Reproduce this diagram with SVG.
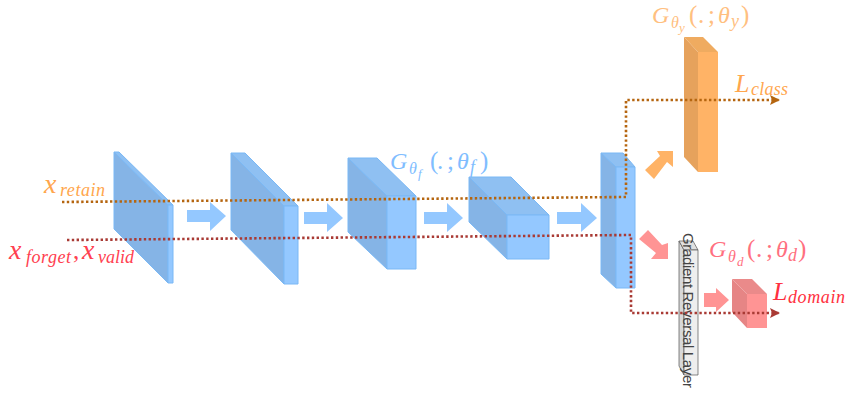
<svg xmlns="http://www.w3.org/2000/svg" width="847" height="393" viewBox="0 0 847 393">
<style>
.m{font-family:"Liberation Serif",serif;font-style:italic;font-size:24px}
.x{font-size:28px}.u{font-style:normal;font-size:25px}.s{font-size:18px}.t{font-size:16px}.f{font-size:13px}
.blue path{stroke:#7ab8f5;stroke-width:1}
.ba{fill:#94c8ff}
.g path{stroke:#555;stroke-width:.7}
.l{fill:none;stroke-width:2.6;stroke-dasharray:2.4 2.4}
</style>
<defs>
<marker id="ao" markerUnits="userSpaceOnUse" markerWidth="11" markerHeight="11" refX="10" refY="5" orient="auto"><path d="M0 0L10 5L0 10L2 5z" fill="#b5650f"/></marker>
<marker id="ar" markerUnits="userSpaceOnUse" markerWidth="11" markerHeight="11" refX="10" refY="5" orient="auto"><path d="M0 0L10 5L0 10L2 5z" fill="#a93a34"/></marker>
</defs>
<g id="layer1" class="blue"><path d="M114 152L168 205V283L114 229z" fill="#85b4e6"/><path d="M114 152H119L173 205H168z" fill="#8fc0f2"/><path d="M168 205H173V283H168z" fill="#94c8ff"/></g>
<g id="layer2" class="blue"><path d="M231 153L284 206V284L231 230z" fill="#85b4e6"/><path d="M231 153H245L298 206H284z" fill="#8fc0f2"/><path d="M284 206H298V284H284z" fill="#94c8ff"/></g>
<g id="layer3" class="blue"><path d="M348 158L387 196V269L348 232z" fill="#85b4e6"/><path d="M348 158H377L416 196H387z" fill="#8fc0f2"/><path d="M387 196H416V269H387z" fill="#94c8ff"/></g>
<g id="layer4" class="blue"><path d="M469 177L507 215V259L469 222z" fill="#85b4e6"/><path d="M469 177H511L549 215H507z" fill="#8fc0f2"/><path d="M507 215H549V259H507z" fill="#94c8ff"/></g>
<g id="layer5" class="blue"><path d="M601 153L616 167V288L601 274z" fill="#85b4e6"/><path d="M601 153H623L635 167H616z" fill="#8fc0f2"/><path d="M616 167H635V288H616z" fill="#94c8ff"/></g>
<g id="classifier"><path d="M684 37L698 52V172L684 157z" fill="#e6a25c"/><path d="M684 37H703L718 52H698z" fill="#efab60"/><path d="M698 52H718V172H698z" fill="#ffb366"/></g>
<g id="domain"><path d="M732 279L747 294V328L732 312z" fill="#e68585"/><path d="M732 279H752L767 294H747z" fill="#ea8a8a"/><path d="M747 294H767V328H747z" fill="#ff9494"/></g>
<g id="grl" class="g"><path d="M679 241L684 250V375L679 366z" fill="#d8d8d8"/><path d="M679 241H693L698 250H684z" fill="#e0e0e0"/><path d="M684 250H698V375H684z" fill="#eee"/><text transform="translate(683 233) rotate(90)" font-family="Liberation Sans,sans-serif" font-size="15" fill="#444" textLength="155" lengthAdjust="spacing">Gradient Reversal Layer</text></g>
<g id="arrows">
<path class="ba" d="M187 210H210V202L226 216L210 231V222H187z"/>
<path class="ba" d="M304 212H327V203L343 218L327 232V224H304z"/>
<path class="ba" d="M424 212H447V203L463 218L447 232V224H424z"/>
<path class="ba" d="M557 212H581V203L597 218L581 232V224H557z"/>
<path fill="#ffb366" d="M645 170L660 156L657 151H673V167L667 162L654 179z"/>
<path fill="#ff9494" d="M639 239L648 230L662 245L668 243V259H651L656 253z"/>
<path fill="#ff9494" d="M704 293H716V288L729 300L716 312V307H704z"/>
</g>
<g id="connectors">
<path class="l" stroke="#b5650f" d="M62 202L626 197V100H780" marker-end="url(#ao)"/>
<path class="l" stroke="#a93a34" d="M67 240L631 235V313H780" marker-end="url(#ar)"/>
</g>
<g id="labels">
<text class="m" fill="#ffa64d"><tspan class="x" x="44" y="193">x</tspan><tspan class="s" x="60" y="196" textLength="45">retain</tspan></text>
<text class="m" fill="#ff4050"><tspan class="x" x="9" y="259">x</tspan><tspan class="s" x="26" y="263" textLength="45">forget</tspan><tspan class="u" x="73" y="259">,</tspan><tspan class="x" x="82" y="259">x</tspan><tspan class="s" x="98" y="263" textLength="36">valid</tspan></text>
<text class="m" fill="#80bdff"><tspan x="390" y="169">G</tspan><tspan class="t" x="409" y="174">θ</tspan><tspan class="f" x="418" y="178">f</tspan><tspan class="u" x="430" y="169">(</tspan><tspan class="u" x="437" y="169">.</tspan><tspan class="u" x="447" y="169">;</tspan><tspan x="457" y="169">θ</tspan><tspan class="s" x="470" y="173">f</tspan><tspan class="u" x="480" y="169">)</tspan></text>
<text class="m" fill="#ffc080"><tspan x="652" y="23">G</tspan><tspan class="t" x="671" y="28">θ</tspan><tspan class="f" x="679" y="32">y</tspan><tspan class="u" x="689" y="23">(</tspan><tspan class="u" x="698" y="23">.</tspan><tspan class="u" x="708" y="23">;</tspan><tspan x="718" y="23">θ</tspan><tspan class="s" x="731" y="27">y</tspan><tspan class="u" x="741" y="23">)</tspan></text>
<text class="m" fill="#ff7080"><tspan x="709" y="257">G</tspan><tspan class="t" x="728" y="262">θ</tspan><tspan class="f" x="737" y="266">d</tspan><tspan class="u" x="747" y="257">(</tspan><tspan class="u" x="756" y="257">.</tspan><tspan class="u" x="766" y="257">;</tspan><tspan x="776" y="257">θ</tspan><tspan class="s" x="788" y="261">d</tspan><tspan class="u" x="798" y="257">)</tspan></text>
<text class="m" fill="#ffa64d"><tspan style="font-size:26px" x="735" y="92">L</tspan><tspan class="s" x="751" y="95" textLength="37">class</tspan></text>
<text class="m" fill="#ff3040"><tspan style="font-size:26px" x="773" y="300">L</tspan><tspan class="s" x="788" y="303" textLength="57">domain</tspan></text>
</g>
</svg>
